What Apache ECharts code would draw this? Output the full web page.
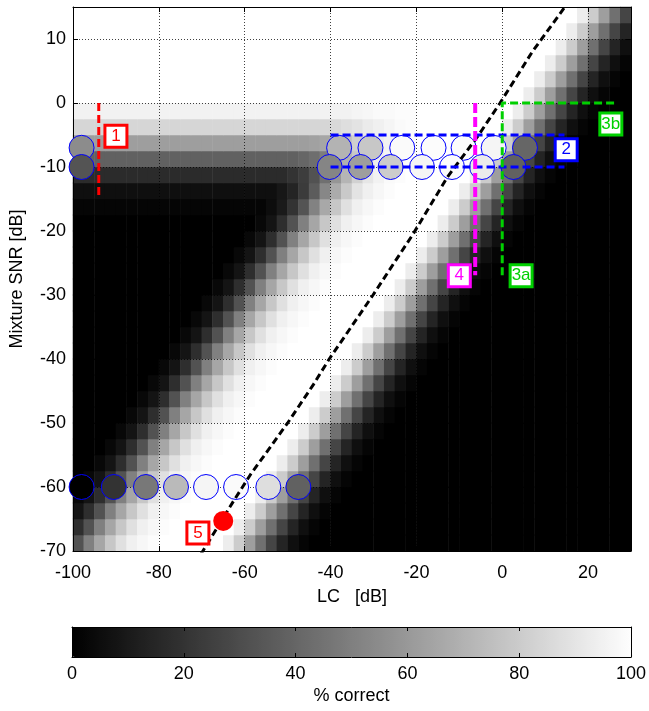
<!DOCTYPE html>
<html>
<head>
<meta charset="utf-8">
<title>% correct vs LC and mixture SNR</title>
<script src="https://cdn.jsdelivr.net/npm/echarts@6.0.0/dist/echarts.min.js"></script>
<style>
    html, body { margin: 0; padding: 0; background: #fff; }
    #main { width: 649px; height: 711px; }
</style>
</head>
<body>
<div id="main"></div>
<script>
//cell centres of the image (dB), 2.5 dB steps
let lcCells = [-98.75,-96.25,-93.75,-91.25,-88.75,-86.25,-83.75,-81.25,-78.75,-76.25,
    -73.75,-71.25,-68.75,-66.25,-63.75,-61.25,-58.75,-56.25,-53.75,-51.25,
    -48.75,-46.25,-43.75,-41.25,-38.75,-36.25,-33.75,-31.25,-28.75,-26.25,
    -23.75,-21.25,-18.75,-16.25,-13.75,-11.25,-8.75,-6.25,-3.75,-1.25,
    1.25,3.75,6.25,8.75,11.25,13.75,16.25,18.75,21.25,23.75,
    26.25,28.75];
let snrCells = [-68.75,-66.25,-63.75,-61.25,-58.75,-56.25,-53.75,-51.25,-48.75,-46.25,
    -43.75,-41.25,-38.75,-36.25,-33.75,-31.25,-28.75,-26.25,-23.75,-21.25,
    -18.75,-16.25,-13.75,-11.25,-8.75,-6.25,-3.75,-1.25,1.25,3.75,
    6.25,8.75,11.25,13.75];

//% correct, one row per SNR cell (bottom row first)
let pctRows = [
    [32,50,65,78,88,94,97,99,100,100,100,100,100,100,93,80,62,44,27,14,6,2, 0,0,0,0,0,0,0,0,0,0, 0,0,0,0,0,0,0,0,0,0, 0,0,0,0,0,0,0,0,0,0],
    [18,32,50,65,78,88,94,97,99,100,100,100,100,100,100,93,80,62,44,27,14,6,2, 0,0,0,0,0,0,0,0,0,0, 0,0,0,0,0,0,0,0,0,0, 0,0,0,0,0,0,0,0,0],
    [8,18,32,50,65,78,88,94,97,99,100,100,100,100,100,100,93,80,62,44,27,14,6,2, 0,0,0,0,0,0,0,0,0,0, 0,0,0,0,0,0,0,0,0,0, 0,0,0,0,0,0,0,0],
    [3,8,18,32,50,65,78,88,94,97,99,100,100,100,100,100,100,93,80,62,44,27,14,6,2, 0,0,0,0,0,0,0,0,0,0, 0,0,0,0,0,0,0,0,0,0, 0,0,0,0,0,0,0],
    [0, 3,8,18,32,50,65,78,88,94,97,99,100,100,100,100,100,100,93,80,62,44,27,14,6,2, 0,0,0,0,0,0,0,0,0,0, 0,0,0,0,0,0,0,0,0,0, 0,0,0,0,0,0],
    [0,0, 3,8,18,32,50,65,78,88,94,97,99,100,100,100,100,100,100,93,80,62,44,27,14,6,2, 0,0,0,0,0,0,0,0,0,0, 0,0,0,0,0,0,0,0,0,0, 0,0,0,0,0],
    [0,0,0, 3,8,18,32,50,65,78,88,94,97,99,100,100,100,100,100,100,93,80,62,44,27,14,6,2, 0,0,0,0,0,0,0,0,0,0, 0,0,0,0,0,0,0,0,0,0, 0,0,0,0],
    [0,0,0,0, 3,8,18,32,50,65,78,88,94,97,99,100,100,100,100,100,100,93,80,62,44,27,14,6,2, 0,0,0,0,0,0,0,0,0,0, 0,0,0,0,0,0,0,0,0,0, 0,0,0],
    [0,0,0,0,0, 3,8,18,32,50,65,78,88,94,97,99,100,100,100,100,100,100,93,80,62,44,27,14,6,2, 0,0,0,0,0,0,0,0,0,0, 0,0,0,0,0,0,0,0,0,0, 0,0],
    [0,0,0,0,0,0, 3,8,18,32,50,65,78,88,94,97,99,100,100,100,100,100,100,93,80,62,44,27,14,6,2, 0,0,0,0,0,0,0,0,0,0, 0,0,0,0,0,0,0,0,0,0, 0],
    [0,0,0,0,0,0,0, 3,8,18,32,50,65,78,88,94,97,99,100,100,100,100,100,100,93,80,62,44,27,14,6,2, 0,0,0,0,0,0,0,0,0,0, 0,0,0,0,0,0,0,0,0,0],
    [0,0,0,0,0,0,0,0, 3,8,18,32,50,65,78,88,94,97,99,100,100,100,100,100,100,93,80,62,44,27,14,6,2, 0,0,0,0,0,0,0,0,0,0, 0,0,0,0,0,0,0,0,0],
    [0,0,0,0,0,0,0,0,0, 3,8,18,32,50,65,78,88,94,97,99,100,100,100,100,100,100,93,80,62,44,27,14,6,2, 0,0,0,0,0,0,0,0,0,0, 0,0,0,0,0,0,0,0],
    [0,0,0,0,0,0,0,0,0,0, 3,8,18,32,50,65,78,88,94,97,99,100,100,100,100,100,100,93,80,62,44,27,14,6,2, 0,0,0,0,0,0,0,0,0,0, 0,0,0,0,0,0,0],
    [0,0,0,0,0,0,0,0,0,0, 0, 3,8,18,32,50,65,78,88,94,97,99,100,100,100,100,100,100,93,80,62,44,27,14,6,2, 0,0,0,0,0,0,0,0,0,0, 0,0,0,0,0,0],
    [0,0,0,0,0,0,0,0,0,0, 0,0, 3,8,18,32,50,65,78,88,94,97,99,100,100,100,100,100,100,93,80,62,44,27,14,6,2, 0,0,0,0,0,0,0,0,0,0, 0,0,0,0,0],
    [0,0,0,0,0,0,0,0,0,0, 0,0,0, 3,8,18,32,50,65,78,88,94,97,99,100,100,100,100,100,100,93,80,62,44,27,14,6,2, 0,0,0,0,0,0,0,0,0,0, 0,0,0,0],
    [0,0,0,0,0,0,0,0,0,0, 0,0,0,0, 3,8,18,32,50,65,78,88,94,97,99,100,100,100,100,100,100,93,80,62,44,27,14,6,2, 0,0,0,0,0,0,0,0,0,0, 0,0,0],
    [0,0,0,0,0,0,0,0,0,0, 0,0,0,0,0, 3,8,18,32,50,65,78,88,94,97,99,100,100,100,100,100,100,93,80,62,44,27,14,6,2, 0,0,0,0,0,0,0,0,0,0, 0,0],
    [0,0,0,0,0,0,0,0,0,0, 0,0,0,0,0,0, 3,8,18,32,50,65,78,88,94,97,99,100,100,100,100,100,100,93,80,62,44,27,14,6,2, 0,0,0,0,0,0,0,0,0,0, 0],
    [0,0,0,0,0,0,0,0,0,0, 0,0,0,0,0,0,0, 3,8,18,32,50,65,78,88,94,97,99,100,100,100,100,100,100,93,80,62,44,27,14,6,2, 0,0,0,0,0,0,0,0,0,0],
    [2,2,2,2,2,2,2,2,2,2, 2,2,2,2,2,2,2,2, 5,10,20,33,51,66,78,88,94,97,99,100,100,100,100,100,100,93,80,62,44,27,14,6,2, 0,0,0,0,0,0,0,0,0],
    [6,6,6,6,6,6,6,6,6,6, 6,6,6,6,6,6,6,6,6, 9,14,23,36,53,67,79,89,94,97,99,100,100,100,100,100,100,93,80,62,44,27,14,6,2, 0,0,0,0,0,0,0,0],
    [17,17,17,17,17,17,17,17,17,17, 17,17,17,17,17,17,17,17,17,17, 20,24,32,44,59,71,82,90,95,98,99,100,100,100,100,100,100,93,80,62,44,27,14,6,2, 0,0,0,0,0,0,0],
    [38,38,38,38,38,38,38,38,38,38, 38,38,38,38,38,38,38,38,38,38, 38, 40,43,49,58,69,78,86,93,96,98,99,100,100,100,100,100,100,93,80,62,44,27,14,6,2, 0,0,0,0,0,0],
    [62,62,62,62,62,62,62,62,62,62, 62,62,62,62,62,62,62,62,62,62, 62,62, 63,65,69,74,81,87,92,95,98,99,100,100,100,100,100,100,100,93,80,62,44,27,14,6,2, 0,0,0,0,0],
    [84,84,84,84,84,84,84,84,84,84, 84,84,84,84,84,84,84,84,84,84, 84,84,84, 84,85,87,89,92,94,96,98,99,100,100,100,100,100,100,100,100,93,80,62,44,27,14,6,2, 0,0,0,0],
    [95,95,95,95,95,95,95,95,95,95, 95,95,95,95,95,95,95,95,95,95, 95,95,95,95, 95,95,96,97,98,98,99,99,100,100,100,100,100,100,100,100,100,93,80,62,44,27,14,6,2, 0,0,0],
    [100,100,100,100,100,100,100,100,100,100, 100,100,100,100,100,100,100,100,100,100, 100,100,100,100,100,100,100,100,100,100, 100,100,100,100,100,100,100,100,100,100, 100,100, 93,80,62,44,27,14,6,2, 0,0],
    [100,100,100,100,100,100,100,100,100,100, 100,100,100,100,100,100,100,100,100,100, 100,100,100,100,100,100,100,100,100,100, 100,100,100,100,100,100,100,100,100,100, 100,100,100, 93,80,62,44,27,14,6,2, 0],
    [100,100,100,100,100,100,100,100,100,100, 100,100,100,100,100,100,100,100,100,100, 100,100,100,100,100,100,100,100,100,100, 100,100,100,100,100,100,100,100,100,100, 100,100,100,100, 93,80,62,44,27,14,6,2],
    [100,100,100,100,100,100,100,100,100,100, 100,100,100,100,100,100,100,100,100,100, 100,100,100,100,100,100,100,100,100,100, 100,100,100,100,100,100,100,100,100,100, 100,100,100,100,100, 93,80,62,44,27,14,6],
    [100,100,100,100,100,100,100,100,100,100, 100,100,100,100,100,100,100,100,100,100, 100,100,100,100,100,100,100,100,100,100, 100,100,100,100,100,100,100,100,100,100, 100,100,100,100,100,100, 93,80,62,44,27,14],
    [100,100,100,100,100,100,100,100,100,100, 100,100,100,100,100,100,100,100,100,100, 100,100,100,100,100,100,100,100,100,100, 100,100,100,100,100,100,100,100,100,100, 100,100,100,100,100,100,100, 93,80,62,44,27]
];

//measured conditions (blue rings), fill = % correct
let ringLc60 = [-98, -90.5, -83, -76, -69, -62, -54.5, -47.5];
let ringPct60 = [0, 20, 47, 73, 96, 98, 87, 38];
let ringLc7 = [-98, -38, -30.7, -23.3, -16, -9, -2, 5.3];
let ringPct7 = [55, 70, 78, 98, 99, 99, 96, 40];
let ringLc10 = [-98, -40.2, -33, -26, -18.7, -11.7, -4.7, 2.6];
let ringPct10 = [33, 52, 62, 80, 96, 99, 92, 38];

//black dashed curve (LC, SNR)
let curveLc = [-70.2, -62.6, -58.6, -54.5, -50, -44, -40.3, -30.1, -20.7, -12.8, -5.8, -0.5, 7, 14.6];
let curveSnr = [-70.5, -62.2, -58, -54.2, -50, -44, -40, -30, -20.4, -11.6, -5.3, 0, 8, 15];

//numbered tags
let tagText = ['1', '2', '3a', '3b', '4', '5'];
let tagLc = [-90, 14.9, 4.4, 25.3, -10, -70.9];
let tagSnr = [-5.2, -7.3, -27, -3.3, -27, -67.2];
let tagColor = ['#ff0000', '#0000ff', '#00d000', '#00d000', '#ff00ff', '#ff0000'];

let xTicks = [-100, 30, 20];
let yTicks = [-70, 15, 10];
let barTicks = [0, 100, 20];

let font = 'Liberation Sans';
let chart = echarts.init(document.getElementById('main'), null, { renderer: 'canvas' });

let heatData = [];
for (let i = 0; i < pctRows.length; i++) {
    for (let j = 0; j < pctRows[i].length; j++) {
        heatData.push([j, i, pctRows[i][j]]);
    }
}

function rings(lcs, snr, pcts) {
    return {
        type: 'scatter', xAxisIndex: 1, yAxisIndex: 1, z: 6,
        symbol: 'circle', symbolSize: 25,
        itemStyle: { borderColor: '#0000ff', borderWidth: 1, opacity: 1 },
        data: lcs.map((x, k) => [x, snr, pcts[k]]),
        silent: true
    };
}

function dashed(points, color, width, dash) {
    return {
        type: 'line', xAxisIndex: 1, yAxisIndex: 1, z: 7,
        symbol: 'none', silent: true,
        lineStyle: { color: color, width: width, type: dash },
        data: points
    };
}

let mainAxis = {
    axisLine: { show: true, onZero: false, lineStyle: { color: '#000', width: 1 } },
    axisTick: { show: true, inside: true, length: 5, lineStyle: { color: '#000' } },
    axisLabel: { color: '#000', fontFamily: font, fontSize: 18, showMaxLabel: false },
    splitLine: { show: true, lineStyle: { color: '#000', width: 1, type: [1, 2], opacity: 0.75 } },
    nameLocation: 'middle',
    nameTextStyle: { color: '#000', fontFamily: font, fontSize: 18 },
    z: 5
};
let frameAxis = {
    axisLine: { show: true, onZero: false, lineStyle: { color: '#000', width: 1 } },
    axisTick: { show: true, inside: true, length: 5, lineStyle: { color: '#000' } },
    axisLabel: { show: false },
    splitLine: { show: false },
    z: 5
};

let option = {
    animation: false,
    backgroundColor: '#fff',
    grid: [
        { left: 72, top: 7, width: 559, height: 544 },
        { left: 72, top: 627, width: 561, height: 30 }
    ],
    xAxis: [
        { type: 'category', gridIndex: 0, data: lcCells, show: false },
        Object.assign({}, mainAxis, {
            type: 'value', gridIndex: 0, position: 'bottom',
            min: xTicks[0], max: xTicks[1], interval: xTicks[2],
            name: 'LC   [dB]', nameGap: 37,
            axisLabel: Object.assign({}, mainAxis.axisLabel, { margin: 13 })
        }),
        Object.assign({}, frameAxis, {
            type: 'value', gridIndex: 0, position: 'top',
            min: xTicks[0], max: xTicks[1], interval: xTicks[2]
        }),
        Object.assign({}, frameAxis, {
            type: 'value', gridIndex: 1, position: 'bottom',
            min: barTicks[0], max: barTicks[1], interval: barTicks[2],
            axisTick: { show: true, inside: true, length: 4, lineStyle: { color: '#000' } },
            axisLabel: { show: true, color: '#000', fontFamily: font, fontSize: 18, margin: 8 },
            name: '% correct', nameLocation: 'middle', nameGap: 30,
            nameTextStyle: { color: '#000', fontFamily: font, fontSize: 18 },
            z: 6
        }),
        Object.assign({}, frameAxis, {
            type: 'value', gridIndex: 1, position: 'top',
            min: barTicks[0], max: barTicks[1], interval: barTicks[2],
            axisTick: { show: true, inside: true, length: 4, lineStyle: { color: '#000' } },
            z: 6
        })
    ],
    yAxis: [
        { type: 'category', gridIndex: 0, data: snrCells, show: false },
        Object.assign({}, mainAxis, {
            type: 'value', gridIndex: 0, position: 'left',
            min: yTicks[0], max: yTicks[1], interval: yTicks[2],
            name: 'Mixture SNR [dB]', nameGap: 47,
            axisLabel: Object.assign({}, mainAxis.axisLabel, { margin: 7 })
        }),
        Object.assign({}, frameAxis, {
            type: 'value', gridIndex: 0, position: 'right',
            min: yTicks[0], max: yTicks[1], interval: yTicks[2]
        }),
        Object.assign({}, frameAxis, {
            type: 'value', gridIndex: 1, position: 'left', min: 0, max: 1,
            axisTick: { show: false }, z: 6
        }),
        Object.assign({}, frameAxis, {
            type: 'value', gridIndex: 1, position: 'right', min: 0, max: 1,
            axisTick: { show: false }, z: 6
        })
    ],
    visualMap: {
        type: 'continuous',
        min: 0, max: 100,
        seriesIndex: [0, 1, 2, 3],
        dimension: 2,
        inRange: { color: ['#000000', '#ffffff'] },
        orient: 'horizontal',
        left: 72, top: 627,
        itemWidth: 30, itemHeight: 561,
        padding: 0,
        calculable: false,
        hoverLink: false,
        text: null,
        z: 4
    },
    series: [
        {
            type: 'heatmap', xAxisIndex: 0, yAxisIndex: 0, z: 1,
            data: heatData,
            progressive: 0,
            silent: true,
            emphasis: { disabled: true }
        },
        rings(ringLc7, -7, ringPct7),
        rings(ringLc10, -10, ringPct10),
        rings(ringLc60, -60, ringPct60),
        //red dot, condition 5
        {
            type: 'scatter', xAxisIndex: 1, yAxisIndex: 1, z: 7, silent: true,
            symbol: 'circle', symbolSize: 20,
            itemStyle: { color: '#ff0000', opacity: 1 },
            data: [[-65, -65.3]]
        },
        dashed(curveLc.map((x, k) => [x, curveSnr[k]]), '#000', 3, [7, 4]),
        dashed([[-94, 0], [-94, -14.7]], '#ff0000', 3, [8, 4]),
        dashed([[-40, -5], [14.5, -5]], '#0000ff', 3, [8, 4]),
        dashed([[-40, -10], [14.5, -10]], '#0000ff', 3, [8, 4]),
        dashed([[-6.3, 0], [-6.3, -26.9]], '#ff00ff', 4, [10, 4]),
        dashed([[0, -26.9], [0, 0], [26.5, 0]], '#00d000', 3, [8, 4]),
        {
            type: 'scatter', xAxisIndex: 1, yAxisIndex: 1, z: 8, silent: true,
            symbol: 'rect', symbolSize: 22,
            data: tagText.map((t, k) => ({
                name: t,
                value: [tagLc[k], tagSnr[k]],
                itemStyle: { color: '#fff', opacity: 1, borderColor: tagColor[k], borderWidth: 3 },
                label: { color: tagColor[k] }
            })),
            label: {
                show: true, position: 'inside', formatter: '{b}',
                fontFamily: font, fontSize: 17
            }
        }
    ]
};

option && chart.setOption(option);
window.addEventListener('resize', function () {
    chart.resize();
});
</script>
</body>
</html>
